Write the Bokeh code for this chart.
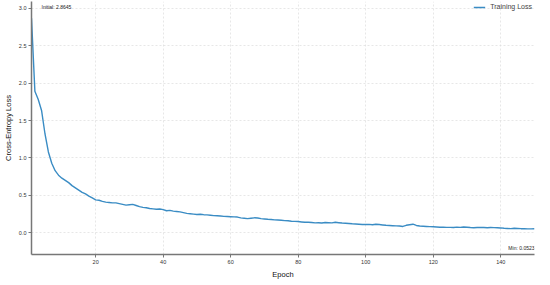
from bokeh.plotting import figure
from bokeh.models import Range1d, FixedTicker, NumeralTickFormatter, Label, Legend, LegendItem
from bokeh.embed import file_html
from bokeh.resources import INLINE

epochs = list(range(1, 151))
loss = [
    2.8645, 1.89, 1.78, 1.63, 1.32, 1.08, 0.93, 0.83, 0.77, 0.73,
    0.70, 0.67, 0.63, 0.60, 0.57, 0.54, 0.52, 0.49, 0.465, 0.44,
    0.435, 0.42, 0.41, 0.405, 0.40, 0.40, 0.39, 0.38, 0.37, 0.375,
    0.38, 0.365, 0.35, 0.34, 0.335, 0.325, 0.32, 0.315, 0.318, 0.31,
    0.295, 0.30, 0.29, 0.285, 0.28, 0.27, 0.26, 0.255, 0.25, 0.245,
    0.248, 0.242, 0.24, 0.235, 0.23, 0.228, 0.225, 0.22, 0.218, 0.215,
    0.212, 0.21, 0.20, 0.195, 0.19, 0.195, 0.20, 0.198, 0.19, 0.185,
    0.18, 0.178, 0.172, 0.17, 0.168, 0.162, 0.16, 0.155, 0.152, 0.15,
    0.145, 0.14, 0.14, 0.138, 0.132, 0.135, 0.13, 0.138, 0.135, 0.132,
    0.14, 0.135, 0.13, 0.128, 0.125, 0.12, 0.118, 0.115, 0.11, 0.11,
    0.112, 0.108, 0.115, 0.11, 0.105, 0.10, 0.098, 0.095, 0.092, 0.09,
    0.085, 0.10, 0.108, 0.115, 0.098, 0.09, 0.088, 0.085, 0.082, 0.08,
    0.078, 0.075, 0.074, 0.073, 0.072, 0.07, 0.075, 0.072, 0.078, 0.074,
    0.07, 0.068, 0.07, 0.072, 0.07, 0.068, 0.07, 0.069, 0.068, 0.065,
    0.06, 0.058, 0.055, 0.06, 0.058, 0.055, 0.054, 0.0523, 0.053, 0.054,
]
x_ticks = [20, 40, 60, 80, 100, 120, 140]
y_ticks = [0.0, 0.5, 1.0, 1.5, 2.0, 2.5, 3.0]
series_name = "Training Loss"
x_label = "Epoch"
y_label = "Cross-Entropy Loss"

FONT = "Liberation Sans"
LINE_COLOR = "#3a8cc4"

x0, x1 = 1, 150
y0, y1 = -0.29, 3.09

p = figure(frame_width=503, frame_height=253, output_backend="svg", toolbar_location=None,
           x_range=Range1d(x0, x1), y_range=Range1d(y0, y1),
           min_border_left=0, min_border_right=10, min_border_top=1, min_border_bottom=0)
p.outline_line_color = None
p.background_fill_color = "white"

r = p.line(epochs, loss, line_color=LINE_COLOR, line_width=1.4)

for ax, ticks in ((p.xaxis[0], x_ticks), (p.yaxis[0], y_ticks)):
    ax.ticker = FixedTicker(ticks=ticks)
    ax.axis_line_color = "#777777"
    ax.axis_line_width = 1.5
    ax.major_tick_line_color = "#777777"
    ax.major_tick_out = 3
    ax.major_tick_in = 0
    ax.minor_tick_line_color = None
    ax.major_label_text_font = FONT
    ax.major_label_text_font_size = "5.5px"
    ax.major_label_text_color = "#333333"
    ax.major_label_standoff = 2
    ax.axis_label_text_font = FONT
    ax.axis_label_text_font_size = "7.5px"
    ax.axis_label_text_font_style = "normal"
    ax.axis_label_text_color = "#111111"
    ax.axis_label_standoff = 3

p.yaxis[0].formatter = NumeralTickFormatter(format="0.0")
p.xaxis[0].axis_label = x_label
p.yaxis[0].axis_label = y_label

for g in (p.xgrid[0], p.ygrid[0]):
    g.grid_line_color = "#dddddd"
    g.grid_line_dash = "2 2"
    g.grid_line_width = 0.7

legend = Legend(items=[LegendItem(label=series_name, renderers=[r])],
                location="top_right", border_line_color=None,
                background_fill_alpha=0, label_text_font=FONT,
                label_text_font_size="7px", glyph_width=12, glyph_height=6,
                label_standoff=5, padding=4, margin=2)
p.add_layout(legend)

init_label = Label(x=x0 + 0.02 * (x1 - x0), y=y1 - 0.01 * (y1 - y0),
                   text=f"Initial: {loss[0]:.4f}", text_font=FONT,
                   text_font_size="5px", text_color="#222222",
                   text_align="left", text_baseline="top")
min_label = Label(x=x1, y=y0 + 0.026 * (y1 - y0),
                  text=f"Min: {min(loss):.4f}", text_font=FONT,
                  text_font_size="5px", text_color="#222222",
                  text_align="right", text_baseline="middle")
p.add_layout(init_label)
p.add_layout(min_label)

open("out.html", "w").write(file_html(p, INLINE))
